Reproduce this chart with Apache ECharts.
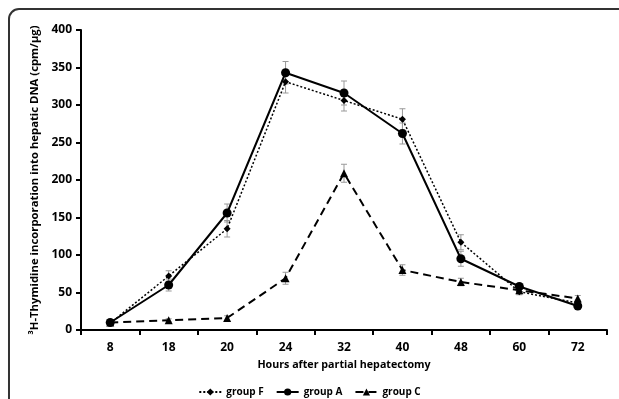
<!DOCTYPE html>
<html>
<head>
<meta charset="utf-8">
<script src="https://cdn.jsdelivr.net/npm/echarts@6/dist/echarts.min.js"></script>
<style>html,body{margin:0;padding:0;background:#fff;}#c{width:619px;height:399px;}</style>
</head>
<body>
<div id="c"></div>
<script>
const categories = ['8','18','20','24','32','40','48','60','72'];
const groupF = [9, 72, 135, 331, 306, 281, 117, 51, 36];
const groupA = [10, 60, 156, 343, 316, 262, 95, 58, 32];
const groupC = [10, 13, 16, 69, 209, 80, 64, 53, 42];
const errF = [3, 7, 11, 15, 14, 14, 10, 4, 4];
const errA = [3, 8, 12, 15, 16, 14, 10, 4, 3];
const errC = [2, 2, 3, 8, 12, 7, 5, 4, 4];
const yTicks = [0, 50, 100, 150, 200, 250, 300, 350, 400];

const font = '"Open Sans", sans-serif';
function errData(vals, errs) { return vals.map((v, i) => [i, v - errs[i], v + errs[i]]); }
function errSeries(vals, errs) {
  return {
    type: 'custom', silent: true, z: 1,
    data: errData(vals, errs),
    renderItem: function (params, api) {
      const lo = api.coord([api.value(0), api.value(1)]);
      const hi = api.coord([api.value(0), api.value(2)]);
      const w = 3;
      const st = { stroke: '#999', lineWidth: 1 };
      return { type: 'group', children: [
        { type: 'line', shape: { x1: lo[0], y1: lo[1], x2: hi[0], y2: hi[1] }, style: st },
        { type: 'line', shape: { x1: lo[0]-w, y1: lo[1], x2: lo[0]+w, y2: lo[1] }, style: st },
        { type: 'line', shape: { x1: hi[0]-w, y1: hi[1], x2: hi[0]+w, y2: hi[1] }, style: st }
      ]};
    }
  };
}
const chart = echarts.init(document.getElementById('c'));
chart.setOption({
  animation: false,
  graphic: [{ type: 'rect', shape: { x: 9, y: 9, width: 800, height: 600, r: 10 }, style: { fill: 'none', stroke: '#333', lineWidth: 2 }, z: -1 }],
  grid: { left: 81, right: 12, top: 30, bottom: 69 },
  legend: {
    bottom: -3, left: 'center', itemWidth: 22, itemHeight: 9, itemGap: 12,
    data: ['group F', 'group A', 'group C'],
    textStyle: { fontFamily: font, fontWeight: 'bold', fontSize: 10, color: '#000' }
  },
  xAxis: {
    type: 'category', data: categories, boundaryGap: true,
    name: 'Hours after partial hepatectomy', nameLocation: 'middle', nameGap: 29,
    nameTextStyle: { fontFamily: font, fontWeight: 'bold', fontSize: 10.7, color: '#000' },
    axisLine: { lineStyle: { color: '#000', width: 2 } },
    axisTick: { show: true, length: 5, lineStyle: { color: '#000', width: 2 } },
    axisLabel: { fontFamily: font, fontWeight: 'bold', fontSize: 12, color: '#000', margin: 12 }
  },
  yAxis: {
    type: 'value', min: 0, max: 400, interval: 50,
    name: '³H-Thymidine incorporation into hepatic DNA (cpm/µg)', nameLocation: 'middle', nameGap: 33,
    nameTextStyle: { fontFamily: font, fontWeight: 'bold', fontSize: 11.3, color: '#000' },
    axisLine: { show: true, lineStyle: { color: '#000', width: 2 } },
    axisTick: { show: true, length: 5, lineStyle: { color: '#000', width: 2 } },
    splitLine: { show: false },
    axisLabel: { fontFamily: font, fontWeight: 'bold', fontSize: 12, color: '#000', margin: 9,
      formatter: v => yTicks.includes(v) ? String(v) : '' }
  },
  series: [
    errSeries(groupF, errF), errSeries(groupA, errA), errSeries(groupC, errC),
    { name: 'group F', type: 'line', data: groupF, z: 3, symbol: 'diamond', symbolSize: 7,
      lineStyle: { color: '#000', width: 1.5, type: [2, 2] }, itemStyle: { color: '#000' } },
    { name: 'group A', type: 'line', data: groupA, z: 4, symbol: 'circle', symbolSize: 9,
      lineStyle: { color: '#000', width: 2 }, itemStyle: { color: '#000' } },
    { name: 'group C', type: 'line', data: groupC, z: 3, symbol: 'triangle', symbolSize: 8,
      lineStyle: { color: '#000', width: 2, type: [8, 5] }, itemStyle: { color: '#000' } }
  ]
});
</script>
</body>
</html>
